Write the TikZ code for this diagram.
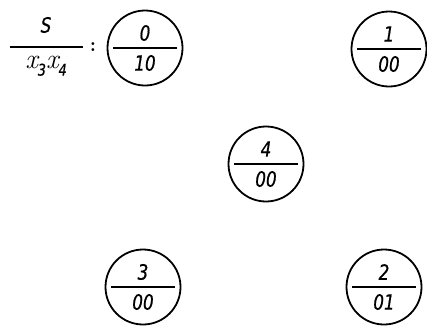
\documentclass[tikz,border=0pt]{standalone}
\usepackage{fontspec}
\usetikzlibrary{calc}
\newfontfamily\tfont[FakeStretch=0.8,FakeBold=0.6]{DejaVu Sans}
\newcommand\subd[1]{\raisebox{-7pt}{\tfont\itshape\fontsize{16}{16}\selectfont #1}}
\begin{document}
\begin{tikzpicture}[x=1pt,y=-1pt,
  ring/.style={circle,draw,line width=1.8pt,minimum size=75pt,inner sep=0pt},
  digit/.style={font=\tfont\itshape\fontsize{21}{21}\selectfont,inner sep=0pt},
  bar/.style={line width=1.7pt}]
\useasboundingbox (0,0) rectangle (427,327);
\newcommand\statenode[4]{%
  \node[ring] (#1) at #2 {};
  \node[digit] (#1t) at ($(#1)+(0,-15)$) {#3};
  \node[digit] (#1b) at ($(#1)+(0,15)$) {#4};
  \coordinate (#1l) at ($(#1)+(-32,0)$);
  \coordinate (#1r) at ($(#1)+(32,0)$);
  \draw[bar] (#1l) -- (#1r);}
\statenode{c0}{(145,48)}{0}{10}
\statenode{c1}{(389,49)}{1}{00}
\statenode{c4}{(266,164)}{4}{00}
\statenode{c3}{(143,287)}{3}{00}
\statenode{c2}{(384,287)}{2}{01}
\node[digit] (s) at (46,25) {S};
\node[inner sep=0pt,font=\itshape\fontsize{28}{28}\selectfont] (x) at (46,66) {x\subd{3}x\subd{4}};
\coordinate (bl) at (10,47);
\coordinate (br) at (83,47);
\draw[bar] (bl) -- (br);
\node[inner sep=0pt,font=\bfseries\fontsize{20}{20}\selectfont] (colon) at (93,47) {:};
\end{tikzpicture}
\end{document}
